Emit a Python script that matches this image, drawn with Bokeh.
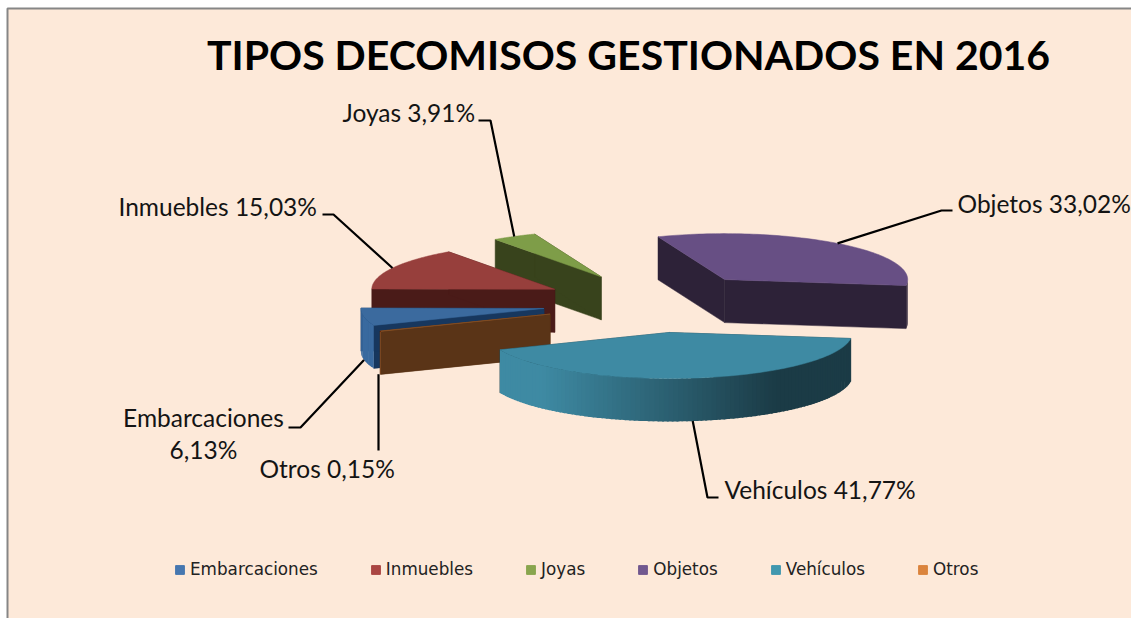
import math
from bokeh.plotting import figure
from bokeh.models import Range1d, Legend, LegendItem
from bokeh.core.properties import value
from bokeh.embed import file_html
from bokeh.resources import INLINE

TITLE = "TIPOS DECOMISOS GESTIONADOS EN 2016"
categories = ["Embarcaciones", "Inmuebles", "Joyas", "Objetos", "Vehículos", "Otros"]
shares = [6.13, 15.03, 3.91, 33.02, 41.77, 0.15]

# styles
top_col = {"Embarcaciones": "#3b6a9e", "Inmuebles": "#973f3c", "Joyas": "#7e9d48",
           "Objetos": "#674f84", "Vehículos": "#3e8aa3", "Otros": "#8a5226"}
side_col = {"Embarcaciones": "#17375e", "Inmuebles": "#4a1b18", "Joyas": "#38431c",
            "Objetos": "#2d2238", "Vehículos": "#1b3b46", "Otros": "#5a3417"}
legend_col = ["#4677b0", "#aa4643", "#89a54e", "#71588f", "#4198af", "#db843d"]
BG = "#fde9d9"

# layout of the 3D pie (screen pixels)
CX, CY, RX, RY, DEPTH = 654.5, 302.5, 183.0, 46.0, 43.0
EXPL_X, EXPL_Y = 113.0, 29.7
START = 7.5
clock_order = ["Vehículos", "Otros", "Embarcaciones", "Inmuebles", "Joyas", "Objetos"]
paint_order = ["Joyas", "Objetos", "Inmuebles", "Embarcaciones", "Otros", "Vehículos"]
label_pos = {  # text anchor, stub start → elbow
    "Joyas": (342, 112, "left", 478, 490, 120),
    "Inmuebles": (118, 206, "left", 322, 333, 214),
    "Objetos": (957, 203, "left", 952, 941, 210),
    "Vehículos": (724, 489, "left", 718, 707, 497),
    "Embarcaciones": (203, 433, "center", 288, 300, 427),
    "Otros": (259, 468, "left", 378, 378, 450),
}

p = figure(width=1131, height=618, output_backend="svg", toolbar_location=None,
           x_range=Range1d(0, 1131), y_range=Range1d(618, 0),
           background_fill_color="#ffffff", border_fill_color="#ffffff", outline_line_color=None,
           min_border=0)
p.axis.visible = False
p.grid.visible = False

# chart area and its frame lines on left/top
p.quad(left=[7], right=[1131], top=[8], bottom=[618], fill_color=BG, line_color=None)
p.line([7, 7, 1131], [618, 8, 8], line_color="#868686", line_width=2)

total = sum(shares)
val = dict(zip(categories, shares))
angles = {}
t = START
for c in clock_order:
    dt = val[c] / total * 360.0
    angles[c] = (t, t + dt)
    t += dt


def arc(cx, cy, t0, t1, n=60):
    ts = [t0 + (t1 - t0) * i / n for i in range(n + 1)]
    return [cx + RX * math.cos(math.radians(a)) for a in ts], [cy + RY * math.sin(math.radians(a)) for a in ts]


def lerp_col(a, b, f):
    ca = [int(a[i:i + 2], 16) for i in (1, 3, 5)]
    cb = [int(b[i:i + 2], 16) for i in (1, 3, 5)]
    return "#%02x%02x%02x" % tuple(round(x + (y - x) * f) for x, y in zip(ca, cb))


def wall_colour(c, x):
    if c == "Vehículos":
        f = (x - 540) / (775 - 540)
        f = max(0.0, min(1.0, f))
        return lerp_col("#3e8aa3", "#1b3b46", f)
    if c == "Embarcaciones":
        return "#3a6a9f"
    if c == "Otros":
        return "#8a5226"
    return side_col[c]


anchors = {}
for c in paint_order:
    t0, t1 = angles[c]
    mid = math.radians((t0 + t1) / 2)
    ax = CX + EXPL_X * math.cos(mid)
    ay = CY + EXPL_Y * math.sin(mid)
    # cut faces
    for a in (t0, t1):
        ex = ax + RX * math.cos(math.radians(a))
        ey = ay + RY * math.sin(math.radians(a))
        p.patch([ax, ex, ex, ax], [ay, ey, ey + DEPTH, ay + DEPTH],
                fill_color=side_col[c], line_color=side_col[c], line_width=0.5)
    # rim, in strips so that it can shade
    a0 = t0 % 360
    a1 = a0 + (t1 - t0)
    vis = []
    for base in (-360, 0, 360):
        lo, hi = max(a0 + base, 0), min(a1 + base, 180)
        if hi > lo:
            vis.append((lo, hi))
    for lo, hi in vis:
        n = max(1, int((hi - lo) / 1.5))
        for i in range(n):
            s0 = lo + (hi - lo) * i / n
            s1 = min(hi, lo + (hi - lo) * (i + 1) / n + 0.6)
            xs, ys = arc(ax, ay, s0, s1, 3)
            col = wall_colour(c, sum(xs) / len(xs))
            p.patch(xs + xs[::-1], ys + [y + DEPTH for y in ys[::-1]],
                    fill_color=col, line_color=None)
    # top
    xs, ys = arc(ax, ay, t0, t1, 90)
    p.patch([ax] + xs, [ay] + ys, fill_color=top_col[c], line_color=top_col[c], line_width=0.5)
    # where the leader touches the slice
    lx = ax + RX * math.cos(mid)
    ly = ay + RY * math.sin(mid)
    if 0 < math.sin(mid):
        ly += DEPTH
    anchors[c] = (lx, ly)

# leaders and data labels
for c in categories:
    tx, ty, align, s0, s1, sy = label_pos[c]
    lx, ly = anchors[c]
    if c == "Otros":
        p.line([s0, s0], [sy, ly], line_color="#000000", line_width=2.2)
    else:
        p.line([s0, s1, lx], [sy, sy, ly], line_color="#000000", line_width=2.2)
    pct = f"{val[c]:.2f}%".replace(".", ",")
    sep = "\n" if c == "Embarcaciones" else " "
    p.text([tx], [ty], text=[c + sep + pct], text_font=value("Lato"), text_font_size="24.5px",
           text_color="#141414", text_align=align, text_baseline="middle",
           text_line_height=1.12)

p.text([628], [54], text=[TITLE], text_font=value("Lato"), text_font_style="bold",
       text_font_size="41px", text_color="#000000", text_align="center", text_baseline="middle")

# legend
items = []
for c, col in zip(categories, legend_col):
    r = p.rect(x=[-100], y=[-100], width=1, height=1, fill_color=col, line_color=col)
    items.append(LegendItem(label=value(c), renderers=[r]))
legend = Legend(items=items, orientation="horizontal", location=(174, 39),
                background_fill_alpha=0, border_line_color=None, padding=0, margin=0,
                spacing=52, glyph_width=11, glyph_height=11, label_standoff=5,
                label_text_font="DejaVu Sans", label_text_font_size="16.8px", label_text_color="#222222")
p.add_layout(legend, "center")

open("out.html", "w").write(file_html(p, INLINE))
